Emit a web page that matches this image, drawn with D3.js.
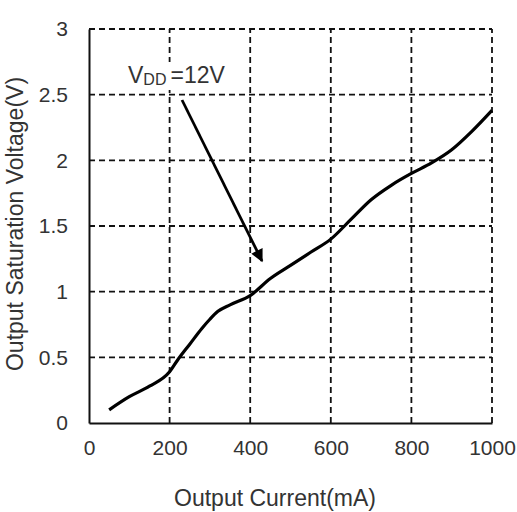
<!DOCTYPE html>
<html>
<head>
<meta charset="utf-8">
<script src="https://cdn.jsdelivr.net/npm/d3@7"></script>
<style>
  body { margin: 0; background: #fff; }
  text { font-family: "Liberation Sans", Arial, sans-serif; fill: #333; }
</style>
</head>
<body>
<svg id="chart"></svg>
<script>
var currentMA = [50, 100, 150, 200, 220, 250, 280, 300, 320, 350, 400, 450, 500, 550, 600, 650, 700, 750, 800, 850, 900, 950, 1000];
var voltage   = [0.1, 0.2, 0.28, 0.39, 0.48, 0.6, 0.72, 0.79, 0.85, 0.9, 0.97, 1.1, 1.2, 1.3, 1.4, 1.55, 1.7, 1.81, 1.9, 1.98, 2.08, 2.22, 2.38];
var xTicks = [0, 200, 400, 600, 800, 1000];
var yTicks = [0, 0.5, 1, 1.5, 2, 2.5, 3];

var width = 517, height = 512;
var margin = {left: 89, right: 25, top: 29, bottom: 89};

var svg = d3.select("#chart")
    .attr("width", width)
    .attr("height", height);

var x = d3.scaleLinear().domain([0, 1000]).range([margin.left, width - margin.right]);
var y = d3.scaleLinear().domain([0, 3]).range([height - margin.bottom, margin.top]);

var data = currentMA.map(function (d, i) {
    return {x: d, y: voltage[i]};
});

// grid lines (dashed)
svg.selectAll(".vgrid")
    .data(xTicks.slice(1))
    .enter().append("line")
    .attr("class", "vgrid")
    .attr("x1", function (d) { return x(d); })
    .attr("x2", function (d) { return x(d); })
    .attr("y1", y(0))
    .attr("y2", y(3))
    .attr("stroke", "#111")
    .attr("stroke-width", 1.8)
    .attr("stroke-dasharray", "6,4");

svg.selectAll(".hgrid")
    .data(yTicks.slice(1))
    .enter().append("line")
    .attr("class", "hgrid")
    .attr("x1", x(0))
    .attr("x2", x(1000))
    .attr("y1", function (d) { return y(d); })
    .attr("y2", function (d) { return y(d); })
    .attr("stroke", "#111")
    .attr("stroke-width", 1.8)
    .attr("stroke-dasharray", "6,4");

// axes
var xAxis = d3.axisBottom(x).tickValues(xTicks).tickSize(0).tickPadding(17)
    .tickFormat(function (d) { return d; });
var yAxis = d3.axisLeft(y).tickValues(yTicks).tickSize(0).tickPadding(21)
    .tickFormat(function (d) { return d; });

var gx = svg.append("g")
    .attr("transform", "translate(0," + y(0) + ")")
    .call(xAxis);
var gy = svg.append("g")
    .attr("transform", "translate(" + x(0) + ",0)")
    .call(yAxis);

[gx, gy].forEach(function (g) {
    g.select(".domain").attr("stroke", "#111").attr("stroke-width", 2);
    g.selectAll("text")
        .style("font-size", "21px")
        .style("font-family", "'Liberation Sans', Arial, sans-serif")
        .attr("fill", "#333");
});

// curve
var line = d3.line()
    .x(function (d) { return x(d.x); })
    .y(function (d) { return y(d.y); })
    .curve(d3.curveMonotoneX);

svg.append("path")
    .datum(data)
    .attr("fill", "none")
    .attr("stroke", "#000")
    .attr("stroke-width", 3.2)
    .attr("d", line);

// annotation
svg.append("rect")
    .attr("x", 124)
    .attr("y", 62)
    .attr("width", 108)
    .attr("height", 28)
    .attr("fill", "#fff");

var label = svg.append("text")
    .attr("x", 128)
    .attr("y", 83)
    .style("font-size", "23px")
    .attr("fill", "#111");
label.append("tspan").text("V");
label.append("tspan").attr("dy", 2).style("font-size", "16px").text("DD");
label.append("tspan").attr("dy", -2).attr("dx", 4).text("=12V");

svg.append("defs").append("marker")
    .attr("id", "arrow")
    .attr("viewBox", "0 0 10 10")
    .attr("refX", 9)
    .attr("refY", 5)
    .attr("markerWidth", 5.5)
    .attr("markerHeight", 4.5)
    .attr("markerUnits", "strokeWidth")
    .attr("orient", "auto")
    .append("path")
    .attr("d", "M0,0 L10,5 L0,10 z")
    .attr("fill", "#000");

svg.append("line")
    .attr("x1", 182)
    .attr("y1", 100)
    .attr("x2", 262)
    .attr("y2", 261)
    .attr("stroke", "#000")
    .attr("stroke-width", 2.8)
    .attr("marker-end", "url(#arrow)");

// axis titles
svg.append("text")
    .attr("x", 275)
    .attr("y", 506)
    .style("text-anchor", "middle")
    .style("font-size", "23px")
    .text("Output Current(mA)");

svg.append("text")
    .attr("transform", "rotate(-90)")
    .attr("x", -224)
    .attr("y", 23)
    .style("text-anchor", "middle")
    .style("font-size", "23px")
    .text("Output Saturation Voltage(V)");
</script>
</body>
</html>
